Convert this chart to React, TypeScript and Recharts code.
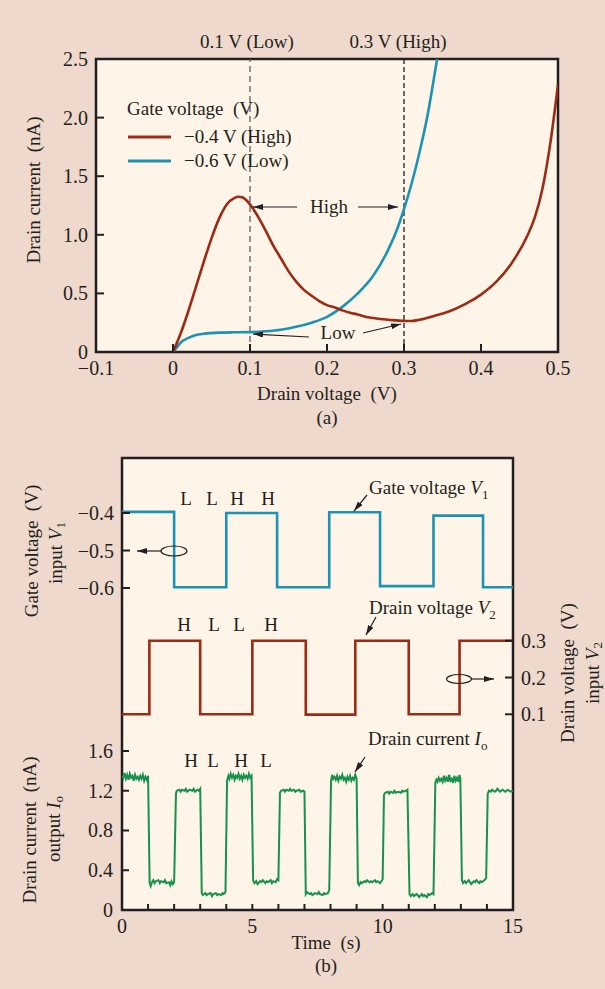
import {
  LineChart, Line, XAxis, YAxis, CartesianGrid, ReferenceArea, ReferenceLine,
} from "recharts";

const INK = "#231F20";
const BG = "#EED9CC";
const PLOT_BG = "#FEF4E8";
const RED = "#9B2B14";
const TEAL = "#1D93B4";
const GREEN = "#17924C";
const FONT = "'Liberation Serif', 'Times New Roman', serif";

// (a) drain current vs drain voltage
const voltTicks = [-0.1, 0, 0.1, 0.2, 0.3, 0.4, 0.5];
const currentTicksA = [0, 0.5, 1, 1.5, 2, 2.5];

const highGateV = [0, 0.01, 0.02, 0.03, 0.04, 0.05, 0.06, 0.07, 0.08, 0.085, 0.09, 0.1, 0.11, 0.12, 0.13, 0.14, 0.15, 0.16, 0.17, 0.18, 0.19, 0.2, 0.21, 0.22, 0.23, 0.24, 0.25, 0.26, 0.28, 0.3, 0.31, 0.32, 0.34, 0.36, 0.38, 0.4, 0.42, 0.44, 0.46, 0.47, 0.48, 0.49, 0.5];
const highGateI = [0, 0.16, 0.35, 0.56, 0.77, 0.97, 1.14, 1.26, 1.315, 1.325, 1.32, 1.26, 1.16, 1.04, 0.91, 0.8, 0.69, 0.6, 0.53, 0.48, 0.435, 0.4, 0.38, 0.355, 0.335, 0.32, 0.3, 0.29, 0.275, 0.265, 0.265, 0.275, 0.31, 0.35, 0.41, 0.49, 0.6, 0.76, 0.99, 1.15, 1.4, 1.78, 2.28];

const lowGateV = [0, 0.005, 0.01, 0.02, 0.03, 0.04, 0.06, 0.08, 0.1, 0.12, 0.14, 0.16, 0.18, 0.2, 0.22, 0.24, 0.26, 0.28, 0.29, 0.3, 0.31, 0.32, 0.33, 0.34, 0.343];
const lowGateI = [0, 0.04, 0.08, 0.12, 0.145, 0.155, 0.165, 0.168, 0.17, 0.177, 0.19, 0.215, 0.25, 0.3, 0.385, 0.5, 0.65, 0.88, 1.03, 1.22, 1.44, 1.7, 2.0, 2.38, 2.5];

// (b) time traces
const timeTicks = [0, 1, 2, 3, 4, 5, 6, 7, 8, 9, 10, 11, 12, 13, 14, 15];
const gateTicks = [-0.6, -0.5, -0.4];
const drainTicks = [0.1, 0.2, 0.3];
const outTicks = [0, 0.4, 0.8, 1.2, 1.6];

const gateT = [0, 2, 4, 5.95, 7.95, 9.9, 11.95, 13.85, 15];
const gateV = [-0.397, -0.598, -0.4, -0.598, -0.398, -0.595, -0.407, -0.598, -0.598];

const drainT = [0, 1.05, 3, 5, 7.05, 8.95, 11, 12.95, 15];
const drainV = [0.1, 0.3, 0.1, 0.3, 0.099, 0.3, 0.1, 0.3, 0.3];

const outputTrace: [number, number][] = [
  [0, 1.35], [0.05, 1.33], [0.1, 1.38], [0.15, 1.32], [0.2, 1.36], [0.25, 1.31], [0.3, 1.37], [0.35, 1.33], [0.4, 1.35], [0.45, 1.3], [0.5, 1.36], [0.55, 1.32], [0.6, 1.34], [0.65, 1.31], [0.7, 1.35], [0.75, 1.32], [0.8, 1.36], [0.85, 1.3], [0.9, 1.34], [0.95, 1.31], [1.0, 1.35],
  [1.06, 0.27], [1.1, 0.24], [1.15, 0.28], [1.2, 0.3], [1.25, 0.27], [1.3, 0.29], [1.4, 0.3], [1.45, 0.27], [1.5, 0.29], [1.6, 0.28], [1.65, 0.3], [1.7, 0.27], [1.8, 0.28], [1.85, 0.25], [1.9, 0.29], [1.95, 0.26], [2.0, 0.28],
  [2.07, 1.17], [2.1, 1.2], [2.2, 1.21], [2.25, 1.19], [2.3, 1.21], [2.4, 1.2], [2.45, 1.22], [2.5, 1.19], [2.6, 1.21], [2.7, 1.2], [2.75, 1.22], [2.8, 1.19], [2.9, 1.21], [2.95, 1.2], [3.0, 1.22],
  [3.06, 0.17], [3.1, 0.15], [3.2, 0.17], [3.25, 0.15], [3.3, 0.16], [3.4, 0.17], [3.45, 0.14], [3.5, 0.16], [3.6, 0.17], [3.65, 0.15], [3.7, 0.16], [3.8, 0.15], [3.85, 0.17], [3.9, 0.16], [3.97, 0.18],
  [4.03, 1.3], [4.08, 1.35], [4.12, 1.32], [4.17, 1.37], [4.22, 1.33], [4.27, 1.36], [4.32, 1.31], [4.37, 1.35], [4.42, 1.33], [4.47, 1.37], [4.52, 1.32], [4.57, 1.35], [4.62, 1.31], [4.67, 1.36], [4.72, 1.33], [4.77, 1.35], [4.82, 1.32], [4.87, 1.37], [4.92, 1.33], [4.97, 1.35],
  [5.03, 0.3], [5.08, 0.27], [5.15, 0.29], [5.2, 0.26], [5.3, 0.29], [5.35, 0.28], [5.4, 0.3], [5.5, 0.27], [5.55, 0.29], [5.6, 0.28], [5.7, 0.3], [5.75, 0.27], [5.8, 0.29], [5.9, 0.28], [5.95, 0.31], [6.0, 0.3],
  [6.06, 1.18], [6.1, 1.2], [6.2, 1.21], [6.25, 1.19], [6.3, 1.21], [6.4, 1.2], [6.45, 1.22], [6.5, 1.2], [6.6, 1.21], [6.65, 1.19], [6.7, 1.2], [6.8, 1.21], [6.85, 1.19], [6.95, 1.2], [7.0, 1.19],
  [7.05, 0.16], [7.1, 0.18], [7.2, 0.16], [7.25, 0.17], [7.3, 0.15], [7.4, 0.17], [7.5, 0.16], [7.55, 0.18], [7.6, 0.16], [7.7, 0.15], [7.75, 0.17], [7.8, 0.16], [7.9, 0.17], [7.95, 0.2],
  [8.02, 1.3], [8.06, 1.36], [8.1, 1.32], [8.15, 1.34], [8.2, 1.31], [8.25, 1.35], [8.3, 1.3], [8.35, 1.34], [8.4, 1.32], [8.45, 1.36], [8.5, 1.31], [8.55, 1.33], [8.6, 1.29], [8.65, 1.34], [8.7, 1.31], [8.75, 1.35], [8.8, 1.3], [8.85, 1.33], [8.9, 1.31], [8.95, 1.36], [9.0, 1.32],
  [9.05, 0.27], [9.1, 0.25], [9.15, 0.28], [9.2, 0.27], [9.3, 0.29], [9.35, 0.28], [9.4, 0.3], [9.5, 0.28], [9.55, 0.29], [9.6, 0.28], [9.7, 0.3], [9.75, 0.28], [9.8, 0.29], [9.9, 0.27], [9.95, 0.29], [10.0, 0.31],
  [10.05, 1.16], [10.1, 1.18], [10.2, 1.19], [10.25, 1.17], [10.3, 1.19], [10.4, 1.18], [10.45, 1.2], [10.5, 1.18], [10.6, 1.19], [10.7, 1.18], [10.75, 1.2], [10.8, 1.19], [10.9, 1.2], [10.95, 1.21],
  [11.03, 0.16], [11.08, 0.14], [11.15, 0.16], [11.2, 0.14], [11.3, 0.16], [11.35, 0.15], [11.4, 0.13], [11.5, 0.16], [11.55, 0.14], [11.6, 0.15], [11.7, 0.13], [11.75, 0.16], [11.8, 0.15], [11.9, 0.17], [11.95, 0.16],
  [12.02, 1.28], [12.06, 1.31], [12.1, 1.29], [12.15, 1.33], [12.2, 1.3], [12.25, 1.32], [12.3, 1.29], [12.35, 1.35], [12.4, 1.3], [12.45, 1.33], [12.5, 1.29], [12.55, 1.36], [12.6, 1.3], [12.65, 1.32], [12.7, 1.28], [12.75, 1.35], [12.8, 1.3], [12.85, 1.33], [12.9, 1.29], [12.95, 1.36], [12.98, 1.32],
  [13.04, 0.3], [13.08, 0.27], [13.15, 0.29], [13.2, 0.27], [13.3, 0.3], [13.35, 0.28], [13.4, 0.26], [13.5, 0.29], [13.55, 0.28], [13.6, 0.3], [13.7, 0.27], [13.75, 0.29], [13.8, 0.28], [13.9, 0.3], [13.97, 0.32],
  [14.03, 1.17], [14.08, 1.2], [14.15, 1.19], [14.2, 1.21], [14.3, 1.19], [14.35, 1.2], [14.4, 1.22], [14.5, 1.19], [14.6, 1.21], [14.65, 1.2], [14.7, 1.19], [14.8, 1.21], [14.85, 1.2], [14.9, 1.19], [15.0, 1.2],
];

const highCurve = highGateV.map((v, k) => ({ v, i: highGateI[k] }));
const lowCurve = lowGateV.map((v, k) => ({ v, i: lowGateI[k] }));
const gateData = gateT.map((t, k) => ({ t, v: gateV[k] }));
const drainData = drainT.map((t, k) => ({ t, v: drainV[k] }));
const outputData = outputTrace.map(([t, i]) => ({ t, i }));

const minus = (v: number) => (v < 0 ? "\u2212" : "") + Math.abs(v).toFixed(1);
const dec = (v: number) => (v === 0 ? "0" : minus(v));

const txt = { fontFamily: FONT, fontSize: 19, fill: INK };
const tickTxt = { ...txt, fontSize: 20 };

// ticks point into the plot, labels sit outside; the axis is 1px thick so x/y is its edge
function makeTick(side: "bottom" | "left" | "right", len: number, fmt: (v: number) => string, gap = 22) {
  return (props: any) => {
    const { x, y, payload } = props;
    const label = fmt(payload.value);
    if (side === "bottom") {
      return (
        <g>
          <line x1={x} y1={y} x2={x} y2={y - len} stroke={INK} strokeWidth={2} />
          {label && <text x={x} y={y + gap} textAnchor="middle" {...tickTxt}>{label}</text>}
        </g>
      );
    }
    if (side === "left") {
      return (
        <g>
          <line x1={x} y1={y} x2={x + len} y2={y} stroke={INK} strokeWidth={2} />
          <text x={x - 8} y={y} dy="0.35em" textAnchor="end" {...tickTxt}>{label}</text>
        </g>
      );
    }
    return (
      <g>
        <line x1={x} y1={y} x2={x - len} y2={y} stroke={INK} strokeWidth={2} />
        <text x={x + 8} y={y} dy="0.35em" textAnchor="start" {...tickTxt}>{label}</text>
      </g>
    );
  };
}

const Sub = ({ base, sub }: { base: string; sub: string }) => (
  <>
    <tspan fontStyle="italic">{base}</tspan>
    <tspan fontSize={13} dy={5}>{sub}</tspan>
  </>
);

function Arrow({ x1, y1, x2, y2, w = 1.2 }: { x1: number; y1: number; x2: number; y2: number; w?: number }) {
  return <line x1={x1} y1={y1} x2={x2} y2={y2} stroke={INK} strokeWidth={w} markerEnd="url(#ah)" />;
}

function Overlay() {
  return (
    <svg width={605} height={989} style={{ position: "absolute", left: 0, top: 0, pointerEvents: "none" }}>
      <defs>
        <marker id="ah" viewBox="0 0 10 6" refX="10" refY="3" markerWidth="10" markerHeight="6"
          markerUnits="userSpaceOnUse" orient="auto">
          <path d="M0,0 L10,3 L0,6 z" fill={INK} />
        </marker>
      </defs>

      {/* (a) */}
      <text x={247} y={48} textAnchor="middle" {...txt}>0.1 V (Low)</text>
      <text x={398} y={48} textAnchor="middle" {...txt}>0.3 V (High)</text>
      <text x={127} y={115} {...txt}>Gate voltage{"\u2002"}(V)</text>
      <line x1={128} y1={137} x2={171} y2={137} stroke={RED} strokeWidth={3} />
      <text x={184} y={143} {...txt}>{"\u2212"}0.4 V (High)</text>
      <line x1={128} y1={161} x2={171} y2={161} stroke={TEAL} strokeWidth={3} />
      <text x={184} y={167} {...txt}>{"\u2212"}0.6 V (Low)</text>
      <text x={329} y={213} textAnchor="middle" {...txt}>High</text>
      <Arrow x1={297} y1={207} x2={253} y2={207} />
      <Arrow x1={358} y1={207} x2={398} y2={207} />
      <text x={338} y={339} textAnchor="middle" {...txt}>Low</text>
      <Arrow x1={309} y1={337} x2={253} y2={334} />
      <Arrow x1={363} y1={333} x2={401} y2={324} />
      <text x={327} y={400} textAnchor="middle" {...txt}>Drain voltage{"\u2002"}(V)</text>
      <text x={327} y={424} textAnchor="middle" {...txt}>(a)</text>
      <text x={33} y={190} textAnchor="middle" dominantBaseline="central" transform="rotate(-90 33 190)" {...txt}>
        Drain current{"\u2002"}(nA)
      </text>

      {/* (b) */}
      {[["L", 186], ["L", 212], ["H", 237], ["H", 268]].map(([s, x]) => (
        <text key={"g" + x} x={x} y={505} textAnchor="middle" {...txt}>{s}</text>
      ))}
      {[["H", 184], ["L", 214], ["L", 239], ["H", 271]].map(([s, x]) => (
        <text key={"d" + x} x={x} y={631} textAnchor="middle" {...txt}>{s}</text>
      ))}
      {[["H", 191], ["L", 213], ["H", 241], ["L", 266]].map(([s, x]) => (
        <text key={"o" + x} x={x} y={767} textAnchor="middle" {...txt}>{s}</text>
      ))}

      <text x={369} y={494} {...txt}>Gate voltage <Sub base="V" sub="1" /></text>
      <Arrow x1={367} y1={495} x2={354} y2={511} />
      <text x={369} y={614} {...txt}>Drain voltage <Sub base="V" sub="2" /></text>
      <Arrow x1={376} y1={617} x2={366} y2={635} />
      <text x={368} y={745} {...txt}>Drain current <Sub base="I" sub="o" /></text>
      <Arrow x1={365} y1={757} x2={355} y2={772} />

      <ellipse cx={174} cy={551} rx={13} ry={5} fill="none" stroke={INK} strokeWidth={1.2} />
      <Arrow x1={161} y1={551} x2={137} y2={551} />
      <ellipse cx={459} cy={679} rx={12.5} ry={4.5} fill="none" stroke={INK} strokeWidth={1.2} />
      <Arrow x1={471.5} y1={679} x2={494} y2={679} />

      <text x={326} y={949} textAnchor="middle" {...txt}>Time{"\u2002"}(s)</text>
      <text x={326} y={972} textAnchor="middle" {...txt}>(b)</text>

      <text x={31} y={551} textAnchor="middle" dominantBaseline="central" transform="rotate(-90 31 551)" {...txt}>
        Gate voltage{"\u2002"}(V)
      </text>
      <text x={55} y={553} textAnchor="middle" dominantBaseline="central" transform="rotate(-90 55 553)" {...txt}>
        input <Sub base="V" sub="1" />
      </text>
      <text x={29} y={830} textAnchor="middle" dominantBaseline="central" transform="rotate(-90 29 830)" {...txt}>
        Drain current{"\u2002"}(nA)
      </text>
      <text x={53} y={829} textAnchor="middle" dominantBaseline="central" transform="rotate(-90 53 829)" {...txt}>
        output <Sub base="I" sub="o" />
      </text>
      <text x={567} y={673} textAnchor="middle" dominantBaseline="central" transform="rotate(-90 567 673)" {...txt}>
        Drain voltage{"\u2002"}(V)
      </text>
      <text x={592} y={673} textAnchor="middle" dominantBaseline="central" transform="rotate(-90 592 673)" {...txt}>
        input <Sub base="V" sub="2" />
      </text>
    </svg>
  );
}

export default function App() {
  return (
    <div style={{ position: "absolute", left: 0, top: 0, width: 605, height: 989, background: BG, fontFamily: FONT }}>
      <div style={{ position: "absolute", left: 0, top: 0 }}>
        <LineChart width={605} height={440} margin={{ top: 59, right: 47, bottom: 87, left: 95 }}>
          <CartesianGrid horizontal={false} vertical={false} fill={PLOT_BG} />
          <XAxis
            dataKey="v" type="number" domain={[-0.1, 0.5]} ticks={voltTicks} allowDataOverflow
            axisLine={false} tickLine={false} tickSize={0} tickMargin={0} height={1}
            tick={makeTick("bottom", 8, dec, 23)} interval={0}
          />
          <YAxis
            type="number" domain={[0, 2.5]} ticks={currentTicksA} allowDataOverflow
            axisLine={false} tickLine={false} tickSize={0} tickMargin={0} width={1}
            tick={makeTick("left", 8, dec)} interval={0}
          />
          <ReferenceLine x={0.1} stroke="#5c5c5c" strokeDasharray="6 4" strokeWidth={1.3} />
          <ReferenceLine x={0.3} stroke={INK} strokeDasharray="5 3" strokeWidth={1.3} />
          <Line data={lowCurve} dataKey="i" type="monotone" stroke={TEAL} strokeWidth={2.6} dot={false} isAnimationActive={false} />
          <Line data={highCurve} dataKey="i" type="monotone" stroke={RED} strokeWidth={2.6} dot={false} isAnimationActive={false} />
          <ReferenceArea x1={-0.1} x2={0.5} y1={0} y2={2.5} fill="none" stroke={INK} strokeWidth={2.5} />
        </LineChart>
      </div>

      <div style={{ position: "absolute", left: 0, top: 440 }}>
        <LineChart width={605} height={549} margin={{ top: 18, right: 91, bottom: 78, left: 120 }}>
          <CartesianGrid yAxisId="g" horizontal={false} vertical={false} fill={PLOT_BG} />
          <XAxis
            dataKey="t" type="number" domain={[0, 15]} ticks={timeTicks} allowDataOverflow
            axisLine={false} tickLine={false} tickSize={0} tickMargin={0} height={1}
            tick={makeTick("bottom", 6, (v) => (v % 5 === 0 ? String(v) : ""), 23)} interval={0}
          />
          <YAxis
            yAxisId="g" type="number" domain={[-1.4587, -0.2533]} ticks={gateTicks} allowDataOverflow
            axisLine={false} tickLine={false} tickSize={0} tickMargin={0} width={1}
            tick={makeTick("left", 8, minus)} interval={0}
          />
          <YAxis
            yAxisId="i" type="number" domain={[0, 4.548]} ticks={outTicks} allowDataOverflow
            axisLine={false} tickLine={false} tickSize={0} tickMargin={0} width={1}
            tick={makeTick("left", 8, dec)} interval={0}
          />
          <YAxis
            yAxisId="d" orientation="right" type="number" domain={[-0.4318, 0.7965]} ticks={drainTicks} allowDataOverflow
            axisLine={false} tickLine={false} tickSize={0} tickMargin={0} width={1}
            tick={makeTick("right", 8, (v) => v.toFixed(1))} interval={0}
          />
          <Line yAxisId="g" data={gateData} dataKey="v" type="stepAfter" stroke={TEAL} strokeWidth={2.6} dot={false} isAnimationActive={false} />
          <Line yAxisId="d" data={drainData} dataKey="v" type="stepAfter" stroke={RED} strokeWidth={2.6} dot={false} isAnimationActive={false} />
          <Line yAxisId="i" data={outputData} dataKey="i" type="linear" stroke={GREEN} strokeWidth={2} dot={false} isAnimationActive={false} />
          <ReferenceArea yAxisId="i" x1={0} x2={15} y1={0} y2={4.548} fill="none" stroke={INK} strokeWidth={2.5} />
        </LineChart>
      </div>

      <Overlay />
    </div>
  );
}
